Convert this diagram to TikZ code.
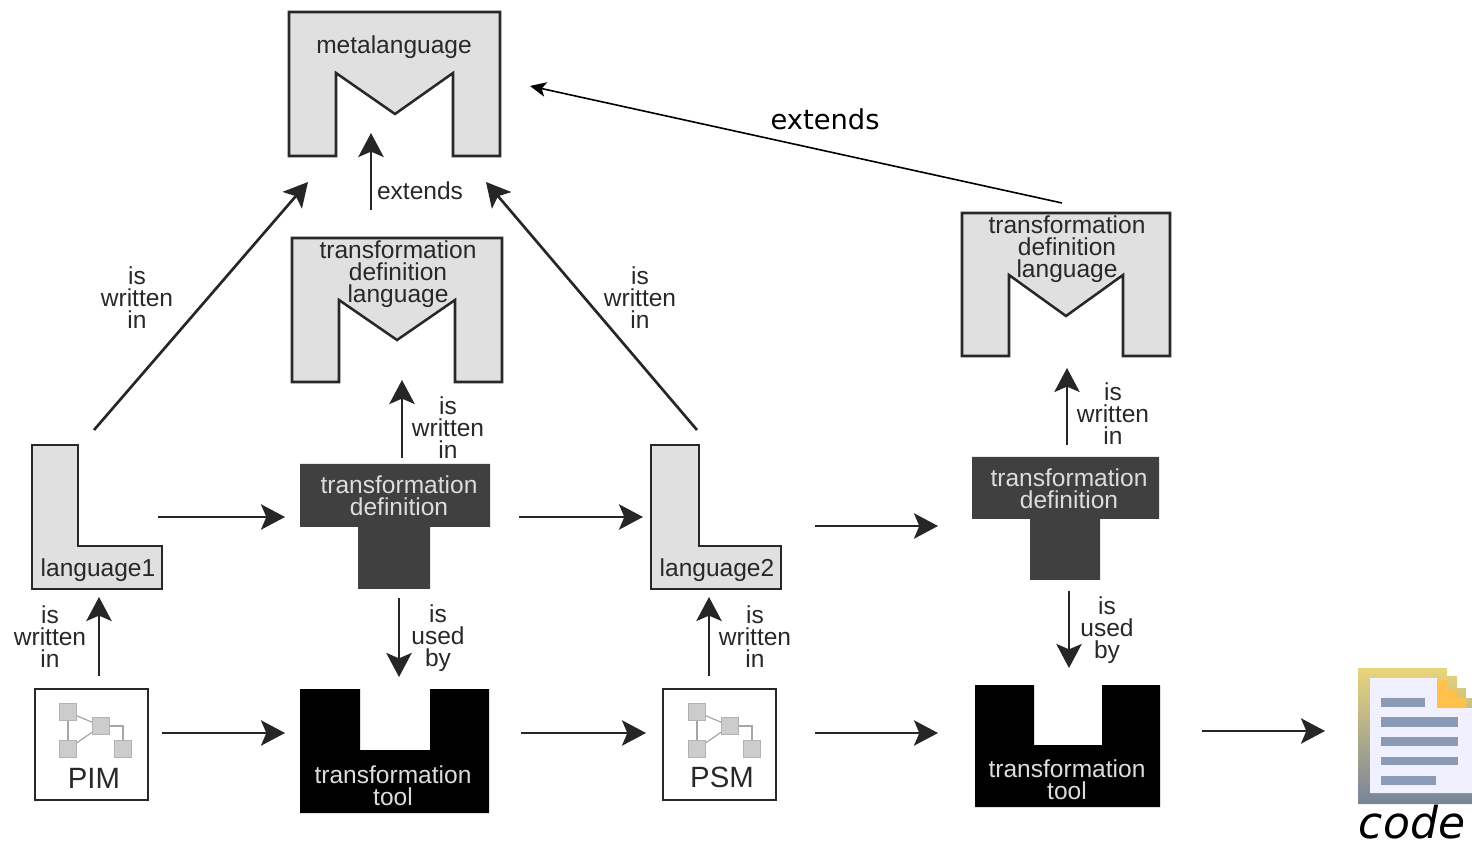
\documentclass[tikz,border=0pt]{standalone}
\usepackage{fontspec}
\setmainfont{Liberation Sans}
\newfontfamily\verdanafont{DejaVu Sans}
\usetikzlibrary{arrows.meta}
\definecolor{fundo}{HTML}{E0E0E0}
\definecolor{borda}{HTML}{282828}
\definecolor{escuro}{HTML}{404040}
\definecolor{claro}{HTML}{DDDDDD}
\definecolor{barra}{HTML}{8C9BB5}
\begin{document}
\begin{tikzpicture}[x=.75pt,y=-.75pt,line join=miter]
\tikzstyle{caixa}=[rectangle, inner sep=0, outer sep=0]
\tikzstyle{forma}=[draw=borda, line width=1.9pt, fill=fundo]
\tikzstyle{seta}=[-{Stealth[length=18pt,width=19pt,inset=4pt]}, line width=2pt, draw=black!85]
\tikzstyle{setafina}=[-{Stealth[length=12pt,width=11pt,inset=3pt]}, line width=1.2pt, draw=black]
\tikzstyle{texto}=[align=center, text=borda, inner sep=0, font=\fontsize{18.4}{16.5}\selectfont]
\tikzstyle{textoclaro}=[texto, text=claro]
\tikzstyle{quadrado}=[rectangle, minimum size=13pt, inner sep=0, draw=gray!60, fill=gray!40]
\tikzstyle{fio}=[draw=gray!70, line width=.9pt]
\useasboundingbox (0,0) rectangle (1472,848);
% metalanguage
\draw[forma](289,12)--(500,12)--(500,156)--(453,156)--(453,73)--(395,114)--(336,73)--(336,156)--(289,156)--cycle;
\node[caixa, minimum width=158.25pt, minimum height=108pt](meta) at(394.5,84){};
\node[texto](metatexto) at(394,47){metalanguage};
% transformation definition language
\draw[forma](292,238)--(502,238)--(502,382)--(455,382)--(455,300)--(397,340)--(339,300)--(339,382)--(292,382)--cycle;
\node[caixa, minimum width=157.5pt, minimum height=108pt](tdlA) at(397,310){};
\node[texto](tdlAtexto) at(398,274){transformation\\definition\\language};
\draw[forma](962,213)--(1170,213)--(1170,356)--(1123,356)--(1123,275)--(1066,316)--(1009,275)--(1009,356)--(962,356)--cycle;
\node[caixa, minimum width=156pt, minimum height=107.25pt](tdlB) at(1066,284.5){};
\node[texto](tdlBtexto) at(1067,249){transformation\\definition\\language};
% languages
\draw[forma](32,445)--(78,445)--(78,546)--(162,546)--(162,589)--(32,589)--cycle;
\node[caixa, minimum width=98.25pt, minimum height=108pt](langA) at(97.5,517){};
\node[texto](langAtexto) at(98,570){language1};
\draw[forma](651,445)--(699,445)--(699,546)--(781,546)--(781,589)--(651,589)--cycle;
\node[caixa, minimum width=98.25pt, minimum height=108pt](langB) at(716.5,517){};
\node[texto](langBtexto) at(717,570){language2};
% transformation definitions
\fill[escuro](300,464)--(490,464)--(490,527)--(430,527)--(430,589)--(358,589)--(358,527)--(300,527)--cycle;
\node[caixa, minimum width=142.5pt, minimum height=93.75pt](defA) at(395,526.5){};
\node[textoclaro](defAtexto) at(399,496){transformation\\definition};
\fill[escuro](972,457)--(1159,457)--(1159,519)--(1100,519)--(1100,580)--(1030,580)--(1030,519)--(972,519)--cycle;
\node[caixa, minimum width=140.25pt, minimum height=92.25pt](defB) at(1065.5,518.5){};
\node[textoclaro](defBtexto) at(1069,489){transformation\\definition};
% transformation tools
\fill[black](300,689)--(360,689)--(360,750)--(430,750)--(430,689)--(489,689)--(489,813)--(300,813)--cycle;
\node[caixa, minimum width=141.75pt, minimum height=93pt](toolA) at(394.5,751){};
\node[textoclaro](toolAtexto) at(393,786){transformation\\tool};
\fill[black](975,685)--(1034,685)--(1034,745)--(1102,745)--(1102,685)--(1160,685)--(1160,807)--(975,807)--cycle;
\node[caixa, minimum width=138.75pt, minimum height=91.5pt](toolB) at(1067.5,746){};
\node[textoclaro](toolBtexto) at(1067,780){transformation\\tool};
% models
\node[caixa, draw=borda, line width=1.9pt, minimum width=84.75pt, minimum height=83.25pt](pim) at(91.5,744.5){};
\node[caixa, draw=borda, line width=1.9pt, minimum width=84.75pt, minimum height=83.25pt](psm) at(719.5,744.5){};
\node[texto, font=\fontsize{22}{24}\selectfont](pimtexto) at(94,778){PIM};
\node[texto, font=\fontsize{22}{24}\selectfont](psmtexto) at(722,777){PSM};
\foreach \dx/\nome in {0/a,629/b}{
  \node[quadrado](qu\nome) at(68+\dx,712){};
  \node[quadrado](qd\nome) at(101+\dx,726){};
  \node[quadrado](qt\nome) at(68+\dx,749){};
  \node[quadrado](qq\nome) at(123+\dx,749){};
  \draw[fio](qu\nome)--(qt\nome);
  \draw[fio](qu\nome)--(qd\nome);
  \draw[fio](qt\nome)--(qd\nome);
  \draw[fio](qd\nome)-|(qq\nome);
}
% code
\shade[top color=yellow!45!brown!60, bottom color=barra!85!black](1358,668)--(1447,668)--(1447,676)--(1457,676)--(1457,688)--(1466,688)--(1466,698)--(1472,698)--(1472,804)--(1358,804)--cycle;
\fill[blue!6](1370,678)--(1437,678)--(1437,708)--(1472,708)--(1472,793)--(1370,793)--cycle;
\fill[orange!70!yellow!70](1437,680)--(1447,680)--(1447,690)--(1457,690)--(1457,698)--(1466,698)--(1466,708)--(1437,708)--cycle;
\fill[barra](1381,698) rectangle (1425,707);
\fill[barra](1381,717) rectangle (1458,727);
\fill[barra](1381,737) rectangle (1458,746);
\fill[barra](1381,757) rectangle (1458,765);
\fill[barra](1381,776) rectangle (1436,785);
\node[caixa, minimum width=85.5pt, minimum height=102pt](doc) at(1415,736){};
\node[anchor=base, inner sep=0, font=\verdanafont\itshape\fontsize{33}{33}\selectfont](codetexto) at(1412,838){code};
% arrows
\draw[seta]([shift={(-3.5,-15)}]langA.north)--([shift={(-86.5,26)}]meta.south);
\draw[seta]([shift={(-26,-28)}]tdlA.north)--([shift={(-23.5,-23)}]meta.south);
\draw[seta]([shift={(-19.5,-15)}]langB.north)--([shift={(91.5,26)}]meta.south);
\draw[seta]([shift={(7,-6)}]defA.north)--([shift={(5,-2)}]tdlA.south);
\draw[seta]([shift={(-5,0)}]langA.east)--([shift={(-15,-9.5)}]defA.west);
\draw[seta]([shift={(29,-9.5)}]defA.east)--([shift={(-8,0)}]langB.west);
\draw[seta]([shift={(33,9)}]langB.east)--([shift={(-34,7.5)}]defB.west);
\draw[seta]([shift={(1.5,-12)}]defB.north)--([shift={(1,12)}]tdlB.south);
\draw[setafina]([shift={(-4,-10)}]tdlB.north)--([shift={(30,2)}]meta.east);
\draw[seta]([shift={(7.5,-13)}]pim.north)--([shift={(1.5,8)}]langA.south);
\draw[seta]([shift={(4,9)}]defA.south)--([shift={(4.5,-12)}]toolA.north);
\draw[seta]([shift={(14,-11.5)}]pim.east)--([shift={(-15,-18)}]toolA.west);
\draw[seta]([shift={(32,-18)}]toolA.east)--([shift={(-17,-11.5)}]psm.west);
\draw[seta]([shift={(-10.5,-13)}]psm.north)--([shift={(-7.5,8)}]langB.south);
\draw[seta]([shift={(39,-11.5)}]psm.east)--([shift={(-37,-13)}]toolB.west);
\draw[seta]([shift={(3.5,11)}]defB.south)--([shift={(1.5,-17)}]toolB.north);
\draw[seta]([shift={(42,-15)}]toolB.east)--([shift={(-33,-5)}]doc.west);
% arrow labels
\node[texto](roA) at(137,298){is\\written\\in};
\node[texto](roB) at(640,298){is\\written\\in};
\node[texto](roC) at(50,637){is\\written\\in};
\node[texto](roD) at(448,428){is\\written\\in};
\node[texto](roE) at(755,637){is\\written\\in};
\node[texto](roF) at(1113,414){is\\written\\in};
\node[texto](roG) at(438,638){is\\used\\by};
\node[texto](roH) at(1107,630){is\\used\\by};
\node[texto](roI) at(420,191){extends};
\node[inner sep=0, font=\verdanafont\fontsize{20.5}{22}\selectfont](roJ) at(825,119){extends};
\end{tikzpicture}
\end{document}
